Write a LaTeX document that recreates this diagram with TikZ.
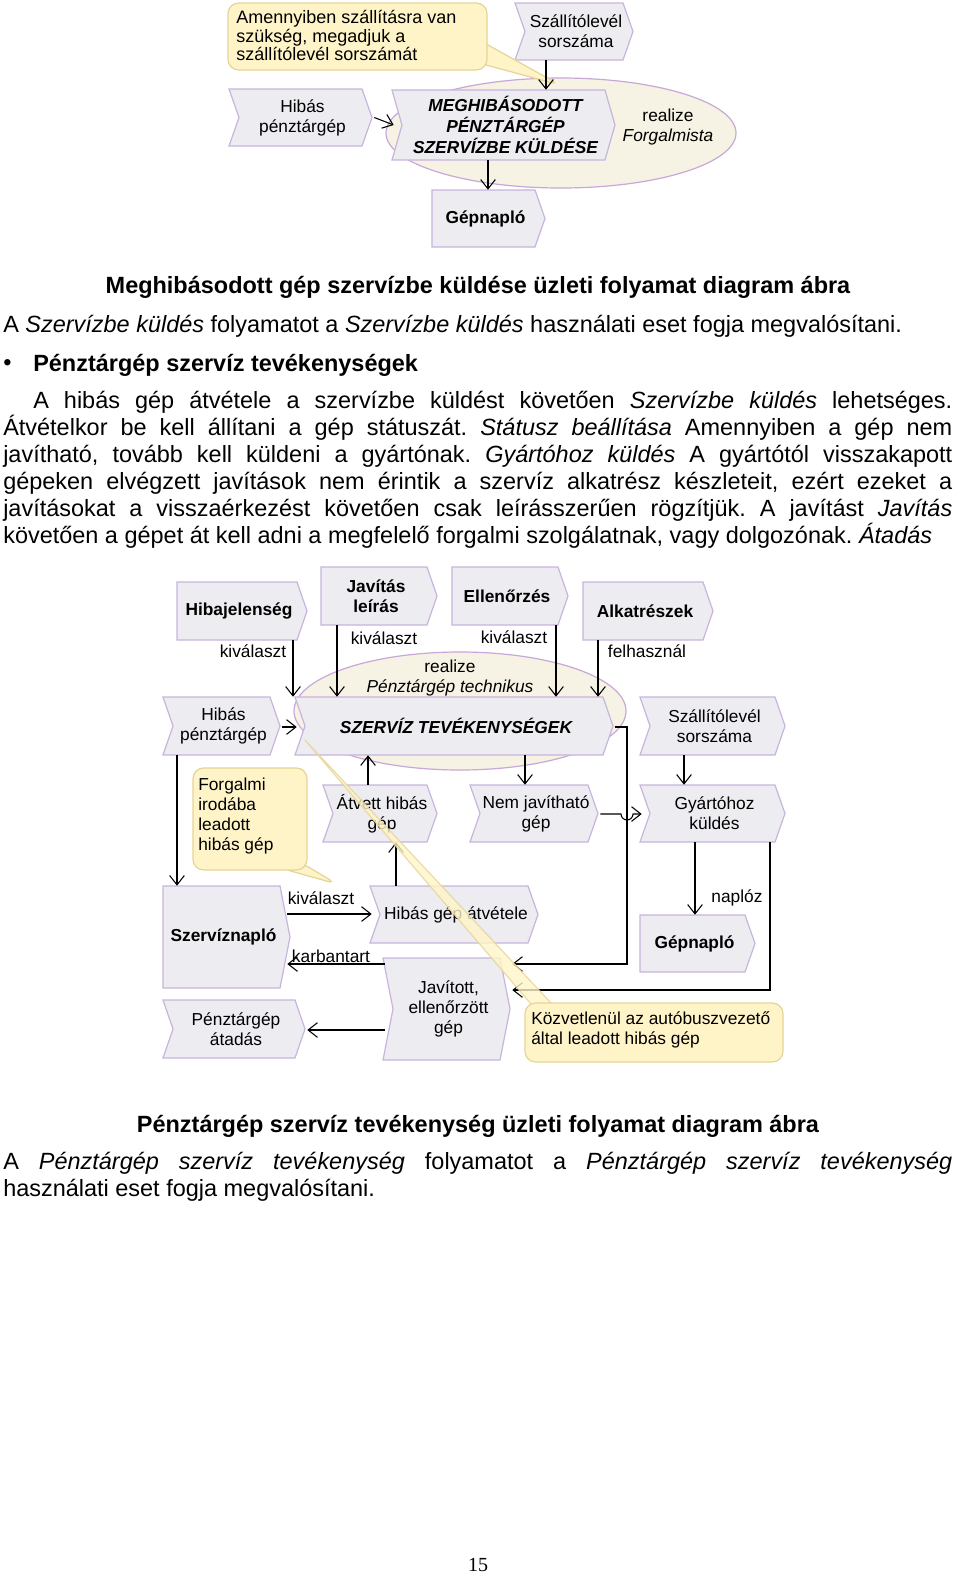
\documentclass[tikz,border=0pt]{standalone}
\usepackage{fontspec}
\setmainfont{Liberation Sans}
\newfontfamily\serifpg{Liberation Serif}
\usetikzlibrary{arrows.meta,shapes.geometric}
\frenchspacing
\definecolor{chevfill}{HTML}{ECECF1}
\definecolor{chevline}{HTML}{C8B4DC}
\definecolor{ellfill}{HTML}{F6F2E4}
\definecolor{ellline}{HTML}{C8A8D8}
\definecolor{notefill}{HTML}{FFF4C8}
\definecolor{noteline}{HTML}{E6D496}
\tikzset{
  arr/.style={draw=black,line width=0.8pt,-{Straight Barb[length=7pt,width=11pt,line width=0.8pt]}},
  dtxt/.style={font=\fontsize{13}{15}\selectfont,align=center,inner sep=0pt},
  lbl/.style={font=\fontsize{13}{15}\selectfont,inner sep=0pt},
  shapeln/.style={fill=chevfill,draw=chevline,line width=0.9pt},
  note/.style={fill=notefill,draw=noteline,line width=0.9pt,rounded corners=8pt},
  body/.style={font=\fontsize{17.6}{20.25}\selectfont,inner sep=0pt},
}
\newcommand\chevN[7][]{%
  \path[shapeln] (#3,#4) -- (#5-10,#4) -- (#5,{(#4+#6)/2}) -- (#5-10,#6) -- (#3,#6) -- (#3+10,{(#4+#6)/2}) -- cycle;
  \node[dtxt,#1,minimum width={(#5-#3)*0.75pt},minimum height={(#6-#4)*0.75pt}] (#2) at ({(#3+#5)/2+2},{(#4+#6)/2}) {#7};}
\newcommand\chevF[7][]{%
  \path[shapeln] (#3,#4) -- (#5-10,#4) -- (#5,{(#4+#6)/2}) -- (#5-10,#6) -- (#3,#6) -- cycle;
  \node[dtxt,font=\fontsize{13}{15}\selectfont\bfseries,#1,minimum width={(#5-#3)*0.75pt},minimum height={(#6-#4)*0.75pt}] (#2) at ({(#3+#5)/2-3},{(#4+#6)/2}) {#7};}
\begin{document}
\begin{tikzpicture}[x=0.75pt,y=-0.75pt]
\useasboundingbox[fill=white] (0,0) rectangle (960,1578);

%%%%% TOP DIAGRAM
\node[ellipse,fill=ellfill,draw=ellline,line width=0.9pt,minimum width={350*0.75pt},minimum height={110*0.75pt}] (ell1) at (561,133) {};
\chevN{hp1}{229}{89}{372}{146}{Hibás\\pénztárgép}
\chevN{sz1}{515}{3}{633}{60}{Szállítólevél\\sorszáma}
\chevN[font=\fontsize{13}{16}\selectfont\bfseries\itshape]{mk}{392}{90}{615}{160}{MEGHIBÁSODOTT\\PÉNZTÁRGÉP\\SZERVÍZBE KÜLDÉSE}
\node[dtxt] (rz1) at (668,127) {realize\\\textit{Forgalmista}};
\chevF{gn1}{432}{190}{545}{247}{Gépnapló}
\path[note] (470,35) -- (560,85) -- (475,62) -- cycle;
\node[note,minimum width={259*0.75pt},minimum height={67*0.75pt}] (c1) at (357.5,36.5) {};
\node[lbl,align=left,font=\fontsize{13.5}{14}\selectfont,anchor=north west] (c1t) at (236,10) {Amennyiben szállításra van\\szükség, megadjuk a\\szállítólevél sorszámát};
\draw[arr] (hp1.east) -- (mk.west);
\draw[arr] (sz1.south -| 546,0) -- (mk.north -| 546,0);
\draw[arr] (mk.south -| 488,0) -- (gn1.north -| 488,0);

%%%%% TEXT
\node[body,font=\fontsize{17.6}{20.25}\selectfont\bfseries] (cap1) at (478,287) {Meghibásodott gép szervízbe küldése üzleti folyamat diagram ábra};
\node[body,anchor=west] (l1) at (3,326) {A \textit{Szervízbe küldés} folyamatot a \textit{Szervízbe küldés} használati eset fogja megvalósítani.};
\node[body,anchor=west] (bul) at (3,365) {•};
\node[body,anchor=west,font=\fontsize{17.6}{20.25}\selectfont\bfseries] (bh) at (33,365) {Pénztárgép szervíz tevékenységek};
\node[body,anchor=north west,text width={949*0.75pt},align=justify] (par) at (3,391) {\hspace*{22.5pt}A hibás gép átvétele a szervízbe küldést követően \textit{Szervízbe küldés} lehetséges.\linebreak Átvételkor be kell állítani a gép státuszát. \textit{Státusz beállítása} Amennyiben a gép nem\linebreak javítható, tovább kell küldeni a gyártónak. \textit{Gyártóhoz küldés} A gyártótól visszakapott\linebreak gépeken elvégzett javítások nem érintik a szervíz alkatrész készleteit, ezért ezeket a\linebreak javításokat a visszaérkezést követően csak leírásszerűen rögzítjük. A javítást \textit{Javítás}\linebreak követően a gépet át kell adni a megfelelő forgalmi szolgálatnak, vagy dolgozónak. \textit{Átadás}};
\node[body,font=\fontsize{17.6}{20.25}\selectfont\bfseries] (cap2) at (478,1126) {Pénztárgép szervíz tevékenység üzleti folyamat diagram ábra};
\node[body,anchor=north west,text width={949*0.75pt},align=justify] (par2) at (3,1152) {A \textit{Pénztárgép szervíz tevékenység} folyamatot a \textit{Pénztárgép szervíz tevékenység}\linebreak használati eset fogja megvalósítani.};
\node[inner sep=0pt,font=\serifpg\fontsize{15}{16}\selectfont] (pg) at (478,1565) {15};

%%%%% BOTTOM DIAGRAM
\node[ellipse,fill=ellfill,draw=ellline,line width=0.9pt,minimum width={332*0.75pt},minimum height={118*0.75pt}] (ell2) at (460,711) {};
\chevF{hje}{177}{582}{307}{640}{Hibajelenség}
\chevF{jav}{321}{567}{437}{625}{Javítás\\leírás}
\chevF{ell}{452}{567}{568}{625}{Ellenőrzés}
\chevF{alk}{583}{582}{713}{640}{Alkatrészek}
\chevN[font=\fontsize{13}{15}\selectfont\bfseries\itshape]{szt}{295}{697}{613}{755}{SZERVÍZ TEVÉKENYSÉGEK}
\node[dtxt] (rz2) at (450,678) {realize\\\textit{Pénztárgép technikus}};
\chevN{hp2}{163}{697}{280}{755}{Hibás\\pénztárgép}
\chevN{sz2}{640}{697}{785}{755}{Szállítólevél\\sorszáma}
\chevN{atv}{323}{785}{437}{842}{Átvett hibás\\gép}
\chevN{nem}{470}{785}{598}{842}{Nem javítható\\gép}
\chevN{gyk}{640}{785}{785}{842}{Gyártóhoz\\küldés}
\chevF{snp}{163}{886}{290}{988}{Szervíznapló}
\chevN{hga}{370}{886}{538}{943}{Hibás gép átvétele}
\chevF{gn2}{640}{915}{755}{972}{Gépnapló}
\chevN{jeg}{383}{958}{510}{1060}{Javított,\\ellenőrzött\\gép}
\chevN{pta}{163}{1000}{305}{1058}{Pénztárgép\\átadás}

% notes
\path[note] (280,868) -- (337,884) -- (300,862) -- cycle;
\node[note,minimum width={114*0.75pt},minimum height={102*0.75pt}] (c2) at (250,819) {};
\node[lbl,align=left,anchor=north west] (c2t) at (198,778) {Forgalmi\\irodába\\leadott\\hibás gép};

% connectors
\draw[arr] (hje.south -| 293,0) -- (szt.north -| 293,0);
\draw[arr] (jav.south -| 337,0) -- (szt.north -| 337,0);
\draw[arr] (ell.south -| 556,0) -- (szt.north -| 556,0);
\draw[arr] (alk.south -| 598,0) -- (szt.north -| 598,0);
\node[lbl] (k1) at (253,651) {kiválaszt};
\node[lbl] (k2) at (384,638) {kiválaszt};
\node[lbl] (k3) at (514,637) {kiválaszt};
\node[lbl] (k4) at (647,651) {felhasznál};
\draw[arr] (hp2.east |- 0,727) -- (szt.west |- 0,727);
\draw[arr] (hp2.south -| 177,0) -- (snp.north -| 177,0);
\draw[arr] (atv.north -| 368,0) -- (szt.south -| 368,0);
\draw[arr] (szt.south -| 525,0) -- (nem.north -| 525,0);
\draw[arr] (hga.north -| 396,0) -- (atv.south -| 396,0);
\draw[arr] (snp.east |- 0,914) -- (hga.west |- 0,914);
\node[lbl] (k5) at (321,898) {kiválaszt};
\draw[arr] (jeg.west |- 0,964) -- (snp.east |- 0,964);
\node[lbl] (k6) at (331,956) {karbantart};
\draw[arr] (jeg.west |- 0,1030) -- (pta.east |- 0,1030);
\draw[arr] (nem.east |- 0,814) -- (621,814) arc[start angle=180,end angle=0,radius=6] -- (gyk.west |- 0,814);
\draw[arr] (szt.east |- 0,727) -- (627,727) -- (627,964) -- (jeg.east |- 0,964);
\draw[arr] (sz2.south -| 684,0) -- (gyk.north -| 684,0);
\draw[arr] (gyk.south -| 695,0) -- (gn2.north -| 695,0);
\node[lbl] (k7) at (737,898) {naplóz};
\draw[arr] (gyk.south -| 770,0) -- (770,990) -- (jeg.east |- 0,990);

\path[note,opacity=0.8,rounded corners=0pt] (531,1004) -- (305,740) -- (552,1004) -- cycle;
\node[note,minimum width={258*0.75pt},minimum height={59*0.75pt}] (c3) at (654,1032.5) {};
\node[lbl,align=left,anchor=north west] (c3t) at (531,1011) {Közvetlenül az autóbuszvezető\\által leadott hibás gép};
\end{tikzpicture}
\end{document}
